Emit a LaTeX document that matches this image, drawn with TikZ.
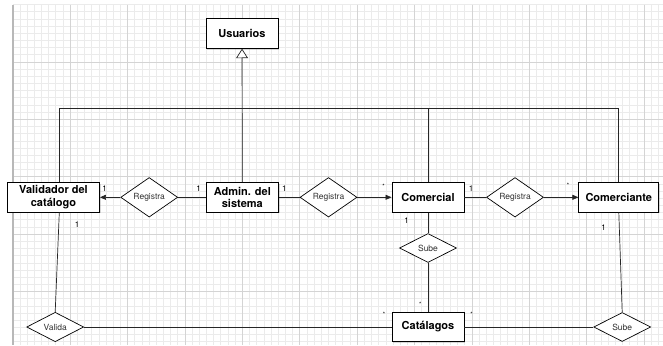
\documentclass[tikz,border=0pt]{standalone}
\usepackage{fontspec}
\setmainfont{TeX Gyre Heros}
\usetikzlibrary{shapes.geometric,arrows.meta,shadows}

\begin{document}
\begin{tikzpicture}[x=1pt,y=-1pt,
  entity/.style={draw=black, line width=0.9pt, fill=white, minimum height=29.5pt,
    inner sep=0pt, align=center, font=\fontsize{11}{12.5}\selectfont\bfseries,
    drop shadow={shadow xshift=1.3pt, shadow yshift=-1.3pt, opacity=0.3}},
  rel/.style={diamond, draw=black, line width=0.7pt, fill=white, minimum width=57pt,
    minimum height=29pt, inner sep=0pt, font=\fontsize{8.5}{10}\selectfont, text=black!80},
  link/.style={draw=black!85, line width=0.7pt},
  solidtip/.style={-{Triangle[length=6pt,width=5pt]}},
  inherit/.style={-{Triangle[open,length=9.5pt,width=12pt,fill=white]}},
  mult/.style={font=\fontsize{8}{9}\selectfont, inner sep=0pt},
  many/.style={font=\fontsize{6}{7}\selectfont, inner sep=0pt},
  minorline/.style={draw=black!8, line width=0.8pt},
  majorline/.style={draw=black!17, line width=0.8pt}]

\useasboundingbox (0,0) rectangle (663,345);
\clip (0,0) rectangle (663,345);

% background grid
\fill[white] (0,0) rectangle (663,345);
\foreach \i in {0,...,90} {
  \pgfmathsetmacro{\gx}{12.8+\i*7.175}
  \draw[minorline] (\gx,4.6) -- (\gx,345);
}
\foreach \j in {0,...,47} {
  \pgfmathsetmacro{\gy}{4.6+\j*7.175}
  \draw[minorline] (12.8,\gy) -- (663,\gy);
}
\foreach \i in {1,...,11} {
  \pgfmathsetmacro{\gx}{12.8+\i*57.4}
  \draw[majorline] (\gx,4.6) -- (\gx,345);
}
\foreach \j in {1,...,5} {
  \pgfmathsetmacro{\gy}{4.6+\j*57.4}
  \draw[majorline] (12.8,\gy) -- (663,\gy);
}
\draw[draw=black!28, line width=1.6pt] (12.8,4.6) -- (12.8,345);

% classes
\node[entity, minimum width=72pt] (usr) at (242,33.5) {Usuarios};
\node[entity, minimum width=92pt] (val) at (53.5,197.3) {Validador del\\catálogo};
\node[entity, minimum width=72pt] (adm) at (242.3,197.3) {Admin. del\\sistema};
\node[entity, minimum width=72pt] (com) at (428,197.3) {Comercial};
\node[entity, minimum width=80pt] (cte) at (618.8,197.3) {Comerciante};
\node[entity, minimum width=72pt] (cat) at (428,327) {Catálagos};

% relationships
\node[rel] (r1) at (149.2,197.3) {Registra};
\node[rel] (r2) at (328.5,197.3) {Registra};
\node[rel] (r3) at (515,197.3) {Registra};
\node[rel] (sb1) at (428,248) {Sube};
\node[rel] (vld) at (55.2,327) {Valida};
\node[rel] (sb2) at (622.2,327) {Sube};

% inheritance
\draw[link, inherit] (adm) -- (usr);

% top bus
\coordinate (tl) at (59.3,108);
\coordinate (tr) at (618.8,108);
\draw[link] (val.north -| tl) -- (tl) -- (tr) -- (cte.north);
\draw[link] (com.north) -- (com.north |- tl);

% associations
\draw[link, solidtip] (r1) -- (val);
\draw[link] (r1) -- (adm);
\draw[link] (adm) -- (r2);
\draw[link, solidtip] (r2) -- (com);
\draw[link] (com) -- (r3);
\draw[link, solidtip] (r3) -- (cte);
\draw[link] (com) -- (sb1);
\draw[link] (sb1) -- (cat);
\draw[link] (val.south -| tl) -- (vld.north);
\draw[link] (cte.south) -- (sb2.north);
\draw[link] (vld) -- (cat);
\draw[link] (cat) -- (sb2);

% multiplicities
\node[mult] (m1) at (104.6,188.6) {1};
\node[mult] (m2) at (198.5,188.6) {1};
\node[mult] (m3) at (284.4,188.6) {1};
\node[many] (m4) at (383.5,186) {*};
\node[mult] (m5) at (471,188.4) {1};
\node[many] (m6) at (568,185.6) {*};
\node[mult] (m7) at (77.2,224.5) {1};
\node[mult] (m8) at (406.5,220.8) {1};
\node[mult] (m9) at (603.6,228) {1};
\node[many] (m10) at (420.2,304.5) {*};
\node[many] (m11) at (384,314.6) {*};
\node[many] (m12) at (471.6,314.6) {*};
\end{tikzpicture}
\end{document}
